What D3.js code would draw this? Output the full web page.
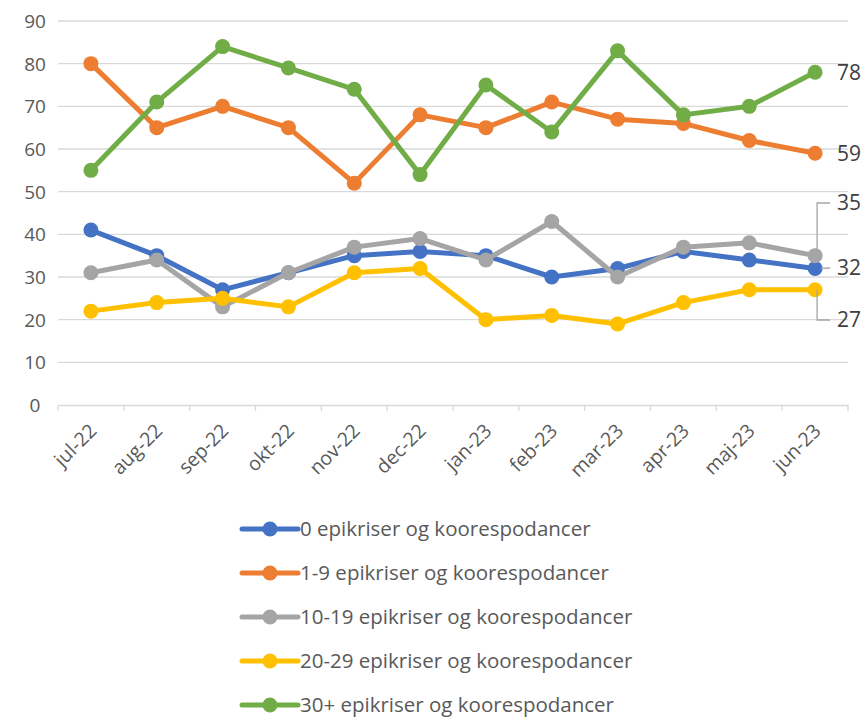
<!DOCTYPE html>
<html>
<head>
<meta charset="utf-8">
<title>Epikriser og koorespodancer</title>
<script src="https://cdn.jsdelivr.net/npm/d3@7"></script>
<style>
  body { margin: 0; background: #fff; }
  text { font-family: "Open Sans", Lato, sans-serif; fill: #595959; }
</style>
</head>
<body>
<script>
// data
var months = ['jul-22','aug-22','sep-22','okt-22','nov-22','dec-22','jan-23','feb-23','mar-23','apr-23','maj-23','jun-23']
var seriesNames = ['0 epikriser og koorespodancer','1-9 epikriser og koorespodancer','10-19 epikriser og koorespodancer','20-29 epikriser og koorespodancer','30+ epikriser og koorespodancer']
var s0 = [41, 35, 27, 31, 35, 36, 35, 30, 32, 36, 34, 32]
var s1 = [80, 65, 70, 65, 52, 68, 65, 71, 67, 66, 62, 59]
var s10 = [31, 34, 23, 31, 37, 39, 34, 43, 30, 37, 38, 35]
var s20 = [22, 24, 25, 23, 31, 32, 20, 21, 19, 24, 27, 27]
var s30 = [55, 71, 84, 79, 74, 54, 75, 64, 83, 68, 70, 78]
var yTicks = [0, 10, 20, 30, 40, 50, 60, 70, 80, 90]
var colors = ['#4472C4', '#ED7D31', '#A5A5A5', '#FFC000', '#70AD47']

var series = [s0, s1, s10, s20, s30].map(function (v, i) {
  return { name: seriesNames[i], values: v, color: colors[i] }
})

var W = 866, H = 721
var svg = d3.select('body').append('svg').attr('width', W).attr('height', H)

var x = d3.scaleBand().domain(months).range([58, 848])
var y = d3.scaleLinear().domain([0, 90]).range([405, 21])
var cx = function (m) { return x(m) + x.bandwidth() / 2 }

// gridlines
svg.append('g').selectAll('line')
  .data(yTicks.filter(function (t) { return t > 0 }))
  .enter().append('line')
  .attr('x1', 58).attr('x2', 848)
  .attr('y1', function (d) { return y(d) }).attr('y2', function (d) { return y(d) })
  .attr('stroke', '#D9D9D9').attr('stroke-width', 1.3)

// y axis labels
var yAxis = d3.axisLeft(y).tickValues(yTicks).tickSize(0).tickPadding(0)
var gy = svg.append('g').attr('transform', 'translate(35,0)').call(yAxis)
gy.select('.domain').remove()
gy.selectAll('text').attr('font-size', 19).style('fill', '#595959')
  .attr('text-anchor', 'middle').attr('dy', '0.35em')

// x axis
var xAxis = d3.axisBottom(x).tickSize(0).tickFormat(function (d) { return d })
var gx = svg.append('g').attr('transform', 'translate(0,' + y(0) + ')').call(xAxis)
gx.select('.domain').attr('stroke', '#D9D9D9').attr('stroke-width', 1.3)
gx.selectAll('text')
  .attr('font-size', 19.5).style('fill', '#595959')
  .attr('text-anchor', 'end')
  .attr('x', 0).attr('y', 0).attr('dy', 0)
  .attr('transform', 'translate(7,27) rotate(-45)')
// boundary ticks
var bounds = months.map(function (m) { return x(m) }).concat([848])
svg.append('g').selectAll('line').data(bounds).enter().append('line')
  .attr('x1', function (d) { return d }).attr('x2', function (d) { return d })
  .attr('y1', y(0)).attr('y2', y(0) + 6)
  .attr('stroke', '#D9D9D9').attr('stroke-width', 1.3)

// lines and markers
var line = d3.line()
  .x(function (d, i) { return cx(months[i]) })
  .y(function (d) { return y(d) })

var g = svg.append('g').selectAll('g').data(series).enter().append('g')
g.append('path')
  .attr('d', function (d) { return line(d.values) })
  .attr('fill', 'none').attr('stroke', function (d) { return d.color })
  .attr('stroke-width', 5).attr('stroke-linejoin', 'round').attr('stroke-linecap', 'round')
g.selectAll('circle').data(function (d) { return d.values.map(function (v) { return { v: v, c: d.color } }) })
  .enter().append('circle')
  .attr('cx', function (d, i) { return cx(months[i]) })
  .attr('cy', function (d) { return y(d.v) })
  .attr('r', 7.5).attr('fill', function (d) { return d.c })

// end labels
var last = months.length - 1
var lx = cx(months[last])
var labels = [
  { s: s30, ty: y(s30[last]), leader: false },
  { s: s1, ty: y(s1[last]), leader: false },
  { s: s10, ty: 203, leader: true },
  { s: s0, ty: 268, leader: true },
  { s: s20, ty: 320, leader: true }
]
labels.forEach(function (l) {
  var py = y(l.s[last])
  if (l.leader) {
    var pts = Math.abs(l.ty - py) > 8
      ? [[lx + 2, py], [lx + 2, l.ty], [lx + 15, l.ty]]
      : [[lx + 6, py], [lx + 15, l.ty]]
    svg.append('path').attr('d', d3.line()(pts))
      .attr('fill', 'none').attr('stroke', '#A5A5A5').attr('stroke-width', 1.3)
  }
  svg.append('text').attr('x', lx + 22).attr('y', l.ty).attr('dy', '0.35em')
    .attr('font-size', 21).style('fill', '#404040').text(l.s[last])
})

// legend
var leg = svg.append('g').selectAll('g').data(series).enter().append('g')
  .attr('transform', function (d, i) { return 'translate(0,' + (529 + i * 44) + ')' })
leg.append('line').attr('x1', 242).attr('x2', 298)
  .attr('stroke', function (d) { return d.color }).attr('stroke-width', 5).attr('stroke-linecap', 'round')
leg.append('circle').attr('cx', 270).attr('r', 7.5).attr('fill', function (d) { return d.color })
leg.append('text').attr('x', 300).attr('dy', '0.35em')
  .attr('font-size', 20.5).style('fill', '#595959')
  .text(function (d) { return d.name })
</script>
</body>
</html>
